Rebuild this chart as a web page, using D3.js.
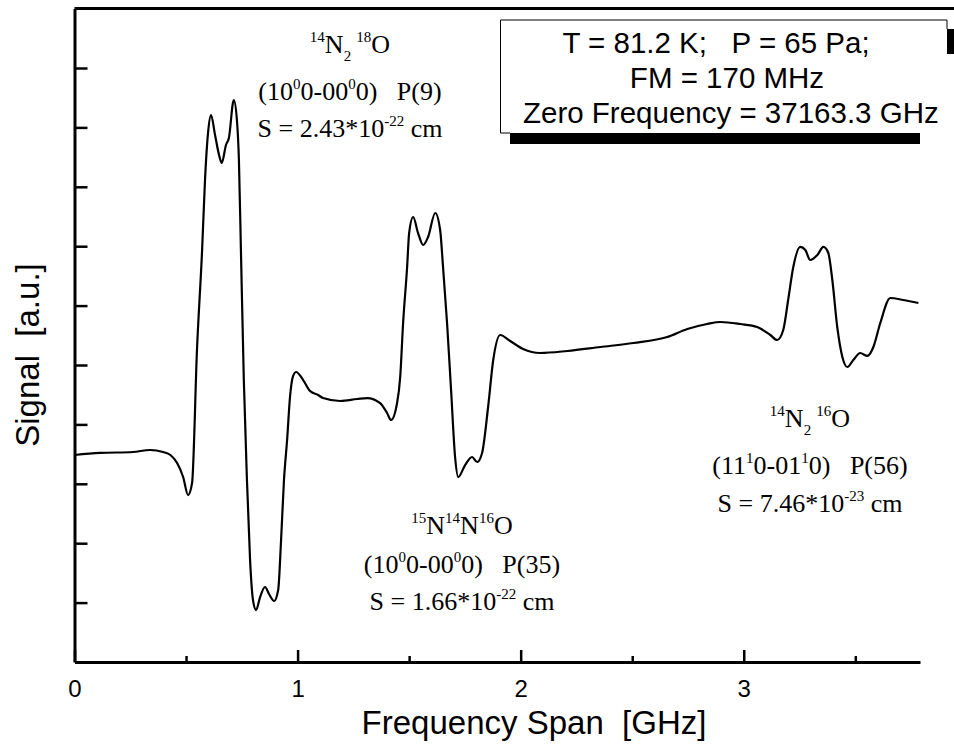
<!DOCTYPE html>
<html><head><meta charset="utf-8">
<script src="https://cdn.jsdelivr.net/npm/d3@7"></script>
<style>body{margin:0;background:#fff} svg{display:block}</style>
</head><body>
<svg id="c" width="954" height="744"></svg>
<script>
// Frequency span [GHz] and signal [a.u.]
const freqGHz = [0.00,0.114,0.262,0.339,0.397,0.430,0.460,0.487,0.509,0.527,0.549,0.572,0.585,0.599,0.612,0.630,0.648,0.660,0.679,0.692,0.714,0.728,0.737,0.746,0.759,0.773,0.787,0.800,0.814,0.832,0.854,0.872,0.895,0.913,0.926,0.939,0.953,0.966,0.980,0.993,1.025,1.056,1.092,1.114,1.191,1.267,1.312,1.370,1.401,1.419,1.446,1.460,1.473,1.491,1.500,1.518,1.540,1.563,1.585,1.617,1.639,1.652,1.670,1.688,1.706,1.720,1.751,1.782,1.805,1.827,1.854,1.877,1.908,1.953,2.011,2.087,2.209,2.357,2.505,2.657,2.747,2.836,2.895,2.984,3.060,3.119,3.150,3.177,3.199,3.222,3.253,3.276,3.298,3.330,3.357,3.379,3.397,3.419,3.442,3.464,3.491,3.522,3.554,3.581,3.612,3.657,3.715,3.783];
const signal = [3.485,3.519,3.535,3.569,3.535,3.485,3.350,3.114,2.811,3.013,5.253,6.936,8.114,8.923,9.209,8.872,8.535,8.401,8.704,8.822,9.461,9.125,8.451,6.936,4.747,3.064,1.717,1.044,0.875,1.094,1.263,1.145,1.027,1.212,2.054,3.064,3.737,4.461,4.815,4.882,4.747,4.562,4.495,4.444,4.394,4.428,4.444,4.360,4.192,4.074,4.360,4.798,5.707,6.650,7.222,7.492,7.222,7.020,7.155,7.559,7.273,6.650,5.707,4.579,3.451,3.114,3.316,3.451,3.367,3.519,4.293,5.084,5.505,5.404,5.269,5.202,5.236,5.303,5.370,5.471,5.606,5.690,5.724,5.690,5.640,5.505,5.421,5.589,6.094,6.650,6.987,6.936,6.768,6.852,6.987,6.886,6.431,5.640,5.135,4.966,5.084,5.202,5.152,5.303,5.707,6.128,6.094,6.044];
const xTickLabels = [0,1,2,3];
const xMinorTicks = [0.5,1.5,2.5,3.5];
const yTicks = [1,2,3,4,5,6,7,8,9,10];
const boxLines = ["T = 81.2 K;\u00a0\u00a0\u00a0P = 65 Pa;", "FM = 170 MHz", "Zero Frequency = 37163.3 GHz"];
const xTitle = "Frequency Span\u00a0\u00a0[GHz]";
const yTitle = "Signal\u00a0\u00a0[a.u.]";

const svg = d3.select("#c");
const x = d3.scaleLinear().domain([0, 3.79]).range([74.5, 920]);
const y = d3.scaleLinear().domain([0, 11]).range([662, 8.6]);
const SANS = "'Liberation Sans', Arial, sans-serif";
const SERIF = "'Liberation Serif', 'Times New Roman', serif";

// top frame line
svg.append("line").attr("x1", x(0)).attr("x2", 954).attr("y1", y(11)).attr("y2", y(11))
  .attr("stroke", "#000").attr("stroke-width", 3);

// y axis (ticks inward, no labels)
const gy = svg.append("g").attr("transform", `translate(${x(0)},0)`)
  .call(d3.axisRight(y).tickValues(yTicks).tickSize(13).tickSizeOuter(0).tickFormat(""));
gy.select(".domain").attr("stroke-width", 3);
gy.selectAll(".tick line").attr("stroke-width", 2.5);

// x axis
const gx = svg.append("g").attr("transform", `translate(0,${y(0)})`)
  .call(d3.axisBottom(x).tickValues(xTickLabels).tickSizeInner(-12).tickSizeOuter(0).tickPadding(18).tickFormat(d3.format("d")));
gx.select(".domain").attr("stroke-width", 3);
gx.selectAll(".tick line").attr("stroke-width", 2.5);
gx.selectAll(".tick text").attr("font-family", SANS).attr("font-size", 24).attr("fill", "#000");
const gxm = svg.append("g").attr("transform", `translate(0,${y(0)})`)
  .call(d3.axisBottom(x).tickValues(xMinorTicks).tickSize(-6).tickFormat(""));
gxm.select(".domain").remove();
gxm.selectAll(".tick line").attr("stroke-width", 2.5);

// signal line
svg.append("path")
  .datum(freqGHz.map((f, i) => [f, signal[i]]))
  .attr("fill", "none").attr("stroke", "#000").attr("stroke-width", 2.2).attr("stroke-linejoin", "round")
  .attr("d", d3.line().x(d => x(d[0])).y(d => y(d[1])).curve(d3.curveMonotoneX));

// axis titles
svg.append("text").attr("x", 534).attr("y", 734).attr("text-anchor", "middle")
  .attr("font-family", SANS).attr("font-size", 33).text(xTitle);
svg.append("text").attr("transform", "translate(39,355) rotate(-90)").attr("text-anchor", "middle")
  .attr("font-family", SANS).attr("font-size", 33).text(yTitle);

// info box
const defs = svg.append("defs");
defs.append("clipPath").attr("id", "boxclip").append("rect").attr("x", 499).attr("y", 19).attr("width", 448).attr("height", 116);
svg.append("rect").attr("x", 510).attr("y", 133).attr("width", 410).attr("height", 11).attr("fill", "#000");
svg.append("rect").attr("x", 947).attr("y", 29).attr("width", 7).attr("height", 25).attr("fill", "#000");
svg.append("path").attr("d", "M947,29 V20 H500.5 V133 H510").attr("fill", "none").attr("stroke", "#000").attr("stroke-width", 1);
const boxG = svg.append("g").attr("clip-path", "url(#boxclip)");
const boxX = [716, 727, 523];
const boxAnchor = ["middle", "middle", "start"];
const boxY = [53, 88, 123];
boxLines.forEach((t, i) => {
  boxG.append("text").attr("x", boxX[i]).attr("y", boxY[i]).attr("text-anchor", boxAnchor[i])
    .attr("font-family", SANS).attr("font-size", 29.5).text(t);
});

// line annotations (Times, with super/subscripts)
function annot(cx, by, parts) {
  const t = svg.append("text").attr("x", cx).attr("y", by).attr("text-anchor", "middle")
    .attr("font-family", SERIF).attr("font-size", 26);
  let off = 0;
  parts.forEach(([s, k]) => {
    let target = k === "sup" ? -11 : k === "sub" ? 8 : 0;
    const sp = t.append("tspan").attr("dy", target - off).text(s.replace(/ /g, "\u00a0"));
    if (k !== "n") sp.attr("font-size", 15);
    off = target;
  });
}
const annotations = [
  {cx: 350, lines: [
    [53, [["14","sup"],["N","n"],["2","sub"],["\u2009","n"],["18","sup"],["O","n"]]],
    [100, [["(10","n"],["0","sup"],["0-00","n"],["0","sup"],["0)   P(9)","n"]]],
    [137, [["S = 2.43*10","n"],["-22","sup"],[" cm","n"]]]]},
  {cx: 462, lines: [
    [534, [["15","sup"],["N","n"],["14","sup"],["N","n"],["16","sup"],["O","n"]]],
    [573, [["(10","n"],["0","sup"],["0-00","n"],["0","sup"],["0)   P(35)","n"]]],
    [610, [["S = 1.66*10","n"],["-22","sup"],[" cm","n"]]]]},
  {cx: 810, lines: [
    [427, [["14","sup"],["N","n"],["2","sub"],["\u2009","n"],["16","sup"],["O","n"]]],
    [474, [["(11","n"],["1","sup"],["0-01","n"],["1","sup"],["0)   P(56)","n"]]],
    [512, [["S = 7.46*10","n"],["-23","sup"],[" cm","n"]]]]}
];
annotations.forEach(a => a.lines.forEach(([by, parts]) => annot(a.cx, by, parts)));
</script>
</body></html>
